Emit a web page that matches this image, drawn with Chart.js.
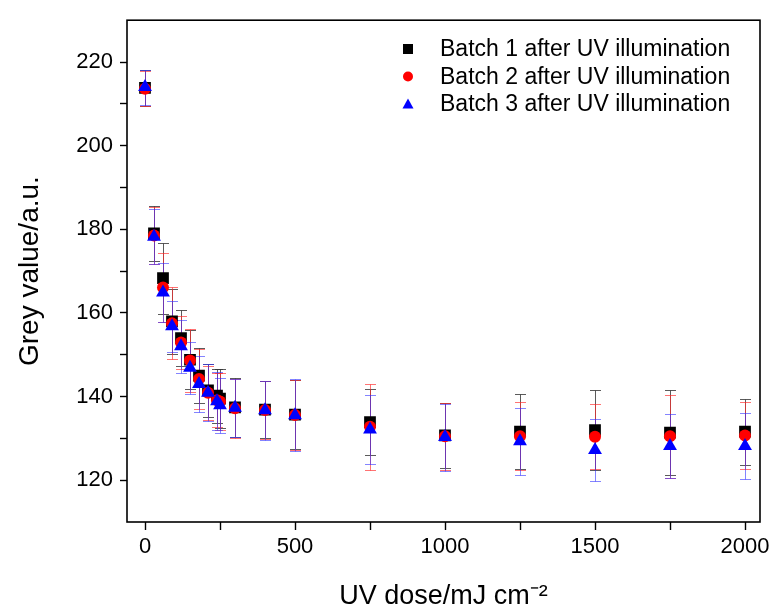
<!DOCTYPE html>
<html>
<head>
<meta charset="utf-8">
<script src="https://cdn.jsdelivr.net/npm/chart.js@4.4.1/dist/chart.umd.min.js"></script>
<style>
html,body{margin:0;padding:0;background:#fff;}
#wrap{width:774px;height:613px;}
</style>
</head>
<body>
<div id="wrap"><canvas id="c" width="774" height="613"></canvas></div>
<script>
// ---- data ----
const doses = [0, 30, 60, 90, 120, 150, 180, 210, 240, 250, 300, 400, 500, 750, 1000, 1250, 1500, 1750, 2000];

const batch1 = [213.8, 179.0, 168.3, 158.0, 154.0, 148.8, 145.0, 141.5, 140.2, 139.5, 137.4, 136.9, 135.7, 133.9, 130.7, 131.6, 132.0, 131.4, 131.6];
const batch1Err = [4.2, 6.5, 8.5, 7.8, 6.8, 7.0, 6.6, 6.3, 6.5, 7.0, 7.0, 6.9, 8.2, 7.8, 7.7, 9.0, 9.5, 10.2, 7.9];

const batch2 = [213.6, 178.5, 166.1, 157.5, 152.9, 148.6, 144.2, 140.9, 139.1, 138.8, 137.2, 136.8, 135.6, 132.8, 130.5, 130.5, 130.4, 130.5, 130.7];
const batch2Err = [4.2, 6.8, 8.2, 8.6, 6.4, 7.5, 7.2, 6.5, 6.5, 6.8, 7.0, 7.0, 8.4, 10.3, 8.0, 8.1, 7.8, 9.9, 8.0];

const batch3 = [214.0, 178.2, 164.9, 156.8, 152.0, 146.9, 143.0, 140.9, 138.9, 137.9, 137.3, 136.7, 135.5, 132.1, 130.3, 129.3, 127.2, 128.2, 128.2];
const batch3Err = [4.2, 6.6, 7.0, 6.1, 6.4, 6.2, 6.6, 6.8, 6.9, 6.5, 6.9, 7.0, 8.6, 8.2, 8.0, 8.0, 7.5, 7.6, 7.8];

const seriesLabels = ['Batch 1 after UV illumination', 'Batch 2 after UV illumination', 'Batch 3 after UV illumination'];
const xTitle = 'UV dose/mJ cm\u207B\u00B2';
const yTitle = 'Grey value/a.u.';

// ---- rendering ----
const FONT = '"Liberation Sans", Arial, sans-serif';

function pts(ys) { return doses.map((x, i) => ({ x: x, y: ys[i] })); }

const errorBars = {
  id: 'errorBars',
  beforeDatasetsDraw(chart) {
    const ctx = chart.ctx, xs = chart.scales.x, ys = chart.scales.y;
    ctx.save();
    chart.data.datasets.forEach((ds) => {
      ctx.strokeStyle = ds.errColor;
      ctx.lineWidth = 1;
      ds.data.forEach((p, i) => {
        const e = ds.errors[i];
        const px = Math.round(xs.getPixelForValue(p.x)) + 0.5;
        const top = Math.round(ys.getPixelForValue(p.y + e)) + 0.5;
        const bot = Math.round(ys.getPixelForValue(p.y - e)) + 0.5;
        ctx.beginPath();
        ctx.moveTo(px, top); ctx.lineTo(px, bot);
        ctx.moveTo(px - 5.5, top); ctx.lineTo(px + 5.5, top);
        ctx.moveTo(px - 5.5, bot); ctx.lineTo(px + 5.5, bot);
        ctx.stroke();
      });
    });
    ctx.restore();
  }
};

const frame = {
  id: 'frame',
  afterDatasetsDraw(chart) {
    const a = chart.chartArea, ctx = chart.ctx;
    ctx.save();
    ctx.strokeStyle = '#000';
    ctx.lineWidth = 1.6;
    ctx.strokeRect(a.left, a.top, a.right - a.left, a.bottom - a.top);
    ctx.restore();
  }
};

function drawMarker(ctx, style, x, y, s, color) {
  ctx.fillStyle = color;
  ctx.beginPath();
  if (style === 'rect') {
    ctx.rect(x - s / 2, y - s / 2, s, s);
  } else if (style === 'circle') {
    ctx.arc(x, y, s / 2, 0, Math.PI * 2);
  } else {
    const h = s * 0.9;
    ctx.moveTo(x, y - h / 2 - 1);
    ctx.lineTo(x + s / 2 + 0.5, y + h / 2);
    ctx.lineTo(x - s / 2 - 0.5, y + h / 2);
    ctx.closePath();
  }
  ctx.fill();
}

const legendBox = {
  id: 'legendBox',
  afterDraw(chart) {
    const ctx = chart.ctx;
    ctx.save();
    ctx.font = '23px ' + FONT;
    ctx.textBaseline = 'middle';
    ctx.textAlign = 'left';
    chart.data.datasets.forEach((ds, i) => {
      const cy = 49 + i * 27.5;
      drawMarker(ctx, ds.pointStyle, 408, cy, 10, ds.backgroundColor);
      ctx.fillStyle = '#000';
      ctx.fillText(ds.label, 440, cy + 1);
    });
    ctx.restore();
  }
};

const hideEdge = (ctx) => (ctx.tick && (ctx.tick.value === 110 || ctx.tick.value === 230)) ? 'rgba(0,0,0,0)' : '#000';

new Chart(document.getElementById('c'), {
  type: 'scatter',
  data: {
    datasets: [
      { label: seriesLabels[0], data: pts(batch1), errors: batch1Err, errColor: 'rgba(50,50,50,0.8)', order: 3,
        pointStyle: 'rect', pointRadius: 8.3, backgroundColor: '#000000', borderWidth: 0 },
      { label: seriesLabels[1], data: pts(batch2), errors: batch2Err, errColor: 'rgba(255,40,40,0.65)', order: 2,
        pointStyle: 'circle', pointRadius: 6, backgroundColor: '#ff0000', borderWidth: 0 },
      { label: seriesLabels[2], data: pts(batch3), errors: batch3Err, errColor: 'rgba(50,50,255,0.6)', order: 1,
        pointStyle: 'triangle', pointRadius: 8, backgroundColor: '#0000ff', borderWidth: 0 }
    ]
  },
  options: {
    responsive: false,
    animation: false,
    devicePixelRatio: 1,
    layout: { padding: { left: 0, top: 10, right: 14, bottom: 0 } },
    plugins: { legend: { display: false }, tooltip: { enabled: false } },
    scales: {
      x: {
        type: 'linear',
        min: -60, max: 2050,
        border: { display: false },
        grid: { drawOnChartArea: false, drawTicks: true, tickLength: 8, tickColor: '#000', tickWidth: 1.4 },
        ticks: {
          stepSize: 250, includeBounds: false, autoSkip: false, maxRotation: 0, padding: 4,
          color: '#000', font: { family: FONT, size: 22 },
          callback: (v) => (v % 500 === 0 ? String(v) : '')
        },
        title: { display: true, text: xTitle, color: '#000', font: { family: FONT, size: 27 }, padding: { top: 0, bottom: 0 } },
        afterFit: (s) => { s.height = 91; }
      },
      y: {
        type: 'linear',
        min: 110, max: 230,
        border: { display: false },
        grid: { drawOnChartArea: false, drawTicks: true, tickLength: 7, tickColor: hideEdge, tickWidth: 1.4 },
        ticks: {
          stepSize: 10, includeBounds: false, autoSkip: false, padding: 7,
          color: '#000', font: { family: FONT, size: 22 },
          callback: (v) => (v % 20 === 0 && v !== 230 && v !== 110 ? String(v) : '')
        },
        title: { display: true, text: yTitle, color: '#000', font: { family: FONT, size: 28 }, padding: { top: 13, bottom: 0 } },
        afterFit: (s) => { s.width = 127; }
      }
    }
  },
  plugins: [errorBars, frame, legendBox]
});
</script>
</body>
</html>
